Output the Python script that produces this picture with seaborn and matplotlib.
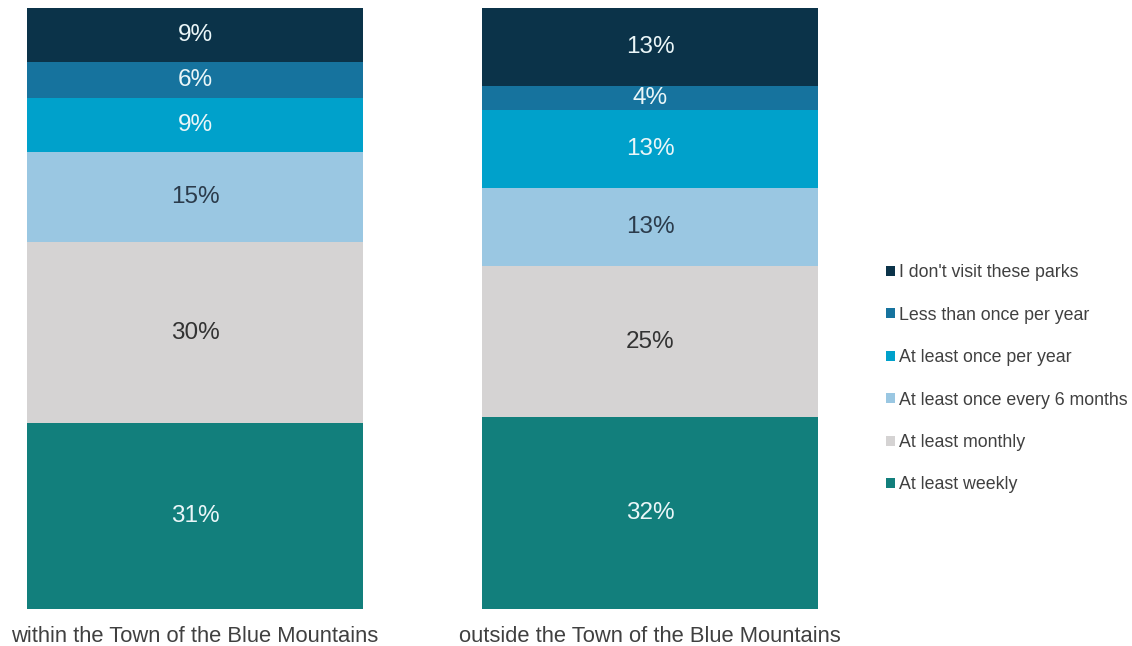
import pandas as pd
import seaborn as sns
import matplotlib.pyplot as plt

# data
locations = ["within the Town of the Blue Mountains", "outside the Town of the Blue Mountains"]
categories = ["At least weekly", "At least monthly", "At least once every 6 months",
              "At least once per year", "Less than once per year", "I don't visit these parks"]
within_vals = [31, 30, 15, 9, 6, 9]
outside_vals = [32, 25, 13, 13, 4, 13]

colors = ["#127f7c", "#d5d3d3", "#9ac7e2", "#00a1cb", "#16739e", "#0b3349"]
label_colors = ["#eaf6f8", "#333333", "#2b3b4b", "#eaf6f8", "#eaf6f8", "#eaf6f8"]

sns.set_style("white")
plt.rcParams['font.family'] = ['Liberation Sans', 'DejaVu Sans']

df = pd.DataFrame({
    "location": locations * len(categories),
    "category": [c for c in categories for _ in locations],
    "value": [v for pair in zip(within_vals, outside_vals) for v in pair],
})

fig = plt.figure(figsize=(11.32, 6.46), dpi=100)
ax = fig.add_axes([27 / 1132, 37 / 646, 791 / 1132, 601 / 646])

bottom = [0, 0]
for cat, col, lcol in zip(categories, colors, label_colors):
    sub = df[df["category"] == cat]
    sns.barplot(data=sub, x="location", y="value", order=locations, color=col,
                width=0.738, bottom=bottom, label=cat, ax=ax, saturation=1,
                edgecolor="none", linewidth=0)
    # percentage labels in the middle of each segment
    for i, v in enumerate(sub["value"].tolist()):
        ax.text(i, bottom[i] + v / 2, f"{v}%", ha="center", va="center",
                fontsize=17.5, color=lcol)
    bottom = [b + v for b, v in zip(bottom, sub["value"].tolist())]

ax.set_xlim(-0.369, 1.369)
ax.set_ylim(0, 100)
ax.set_xlabel("")
ax.set_ylabel("")
ax.set_yticks([])
ax.tick_params(axis="x", length=0, pad=12, labelsize=15.8, labelcolor="#404040")
sns.despine(ax=ax, left=True, bottom=True)

handles, labels = ax.get_legend_handles_labels()
ax.legend(handles[::-1], labels[::-1], loc="center left", bbox_to_anchor=(1.066, 0.383),
          frameon=False, fontsize=12.8, handlelength=0.5, handleheight=0.5,
          handletextpad=0.2, labelspacing=1.43, labelcolor="#404040")

fig.savefig("out.png", dpi=100)
